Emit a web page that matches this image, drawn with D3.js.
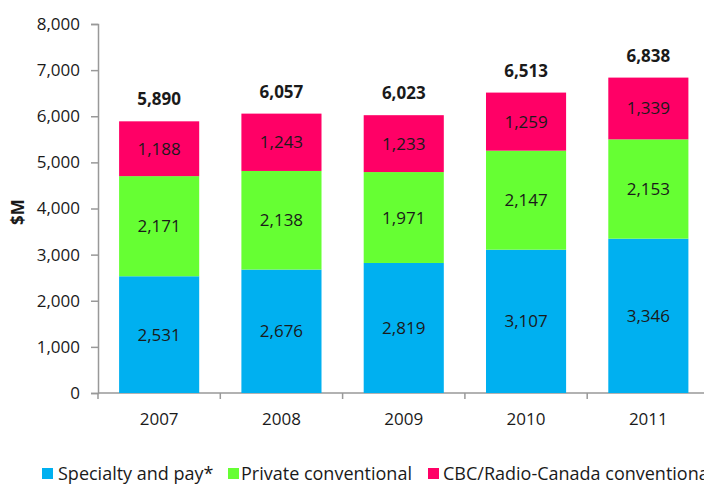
<!DOCTYPE html>
<html><head><meta charset="utf-8">
<script src="https://cdn.jsdelivr.net/npm/d3@7"></script>
<style>body{margin:0;background:#fff}svg{display:block}text{font-family:"Open Sans",sans-serif;fill:#1a1a1a}</style>
</head><body>
<svg id="c" width="704" height="484"></svg>
<script>
const years = ["2007","2008","2009","2010","2011"];
const specialty = [2531,2676,2819,3107,3346];
const privateConv = [2171,2138,1971,2147,2153];
const cbc = [1188,1243,1233,1259,1339];
const seriesNames = ["Specialty and pay*","Private conventional","CBC/Radio-Canada conventional"];
const yTicks = [0,1000,2000,3000,4000,5000,6000,7000,8000];
const colors = ["#00b0f0","#66ff33","#ff0066"];

(function(){
const svg = d3.select("#c");
const mLeft = 98, mRight = 709.5, mTop = 24, mBottom = 393;
const x = d3.scaleBand().domain(years).range([mLeft,mRight]).paddingInner(0.345).paddingOuter(0.1725);
const y = d3.scaleLinear().domain([0,8000]).range([mBottom,mTop]);
const fmt = d3.format(",");

const data = years.map((yr,i)=>({year:yr, s0:specialty[i], s1:privateConv[i], s2:cbc[i]}));
const stack = d3.stack().keys(["s0","s1","s2"])(data);

const axisColor = "#999";
const ya = svg.append("g").attr("transform",`translate(${mLeft},0)`)
  .call(d3.axisLeft(y).tickValues(yTicks).tickFormat(fmt).tickSize(7).tickPadding(11));
ya.select(".domain").attr("stroke",axisColor).attr("stroke-width",1.5);
ya.selectAll(".tick line").attr("stroke",axisColor).attr("stroke-width",1.5);
ya.selectAll(".tick text").style("font-size","17px").style("font-family","'Open Sans',sans-serif").attr("fill","#1a1a1a");

svg.append("line").attr("x1",mLeft).attr("x2",704).attr("y1",mBottom).attr("y2",mBottom)
  .attr("stroke",axisColor).attr("stroke-width",1.5);
const step = x.step();
const bounds = years.map((d,i)=> mLeft + i*step).concat([mLeft+years.length*step]);
svg.selectAll(".xt").data(bounds).enter().append("line")
  .attr("x1",d=>d).attr("x2",d=>d).attr("y1",mBottom).attr("y2",mBottom+6)
  .attr("stroke",axisColor).attr("stroke-width",1.5);
svg.selectAll(".xl").data(years).enter().append("text")
  .attr("x",d=>x(d)+x.bandwidth()/2).attr("y",425).attr("text-anchor","middle")
  .style("font-size","17px").text(d=>d);

stack.forEach((layer,li)=>{
  svg.append("g").selectAll("rect").data(layer).enter().append("rect")
    .attr("x",d=>x(d.data.year)).attr("width",x.bandwidth())
    .attr("y",d=>y(d[1])).attr("height",d=>y(d[0])-y(d[1]))
    .attr("fill",colors[li]);
  svg.append("g").selectAll("text").data(layer).enter().append("text")
    .attr("x",d=>x(d.data.year)+x.bandwidth()/2)
    .attr("y",d=>(y(d[0])+y(d[1]))/2+6)
    .attr("text-anchor","middle").style("font-size","17px")
    .text(d=>fmt(d[1]-d[0]));
});
svg.selectAll(".tot").data(data).enter().append("text")
  .attr("x",d=>x(d.year)+x.bandwidth()/2)
  .attr("y",d=>y(d.s0+d.s1+d.s2)-16)
  .attr("text-anchor","middle").style("font-size","17px").style("font-weight","bold")
  .text(d=>fmt(d.s0+d.s1+d.s2));

svg.append("text").attr("transform","translate(24,212) rotate(-90)")
  .attr("text-anchor","middle").style("font-size","17px").style("font-weight","bold").text("$M");

const legX = [42,228,428];
const legT = [58,241,443];
seriesNames.forEach((n,i)=>{
  svg.append("rect").attr("x",legX[i]).attr("y",468).attr("width",11).attr("height",11).attr("fill",colors[i]);
  svg.append("text").attr("x",legT[i]).attr("y",480).style("font-size","18px").text(n);
});
})();
</script>
</body></html>
